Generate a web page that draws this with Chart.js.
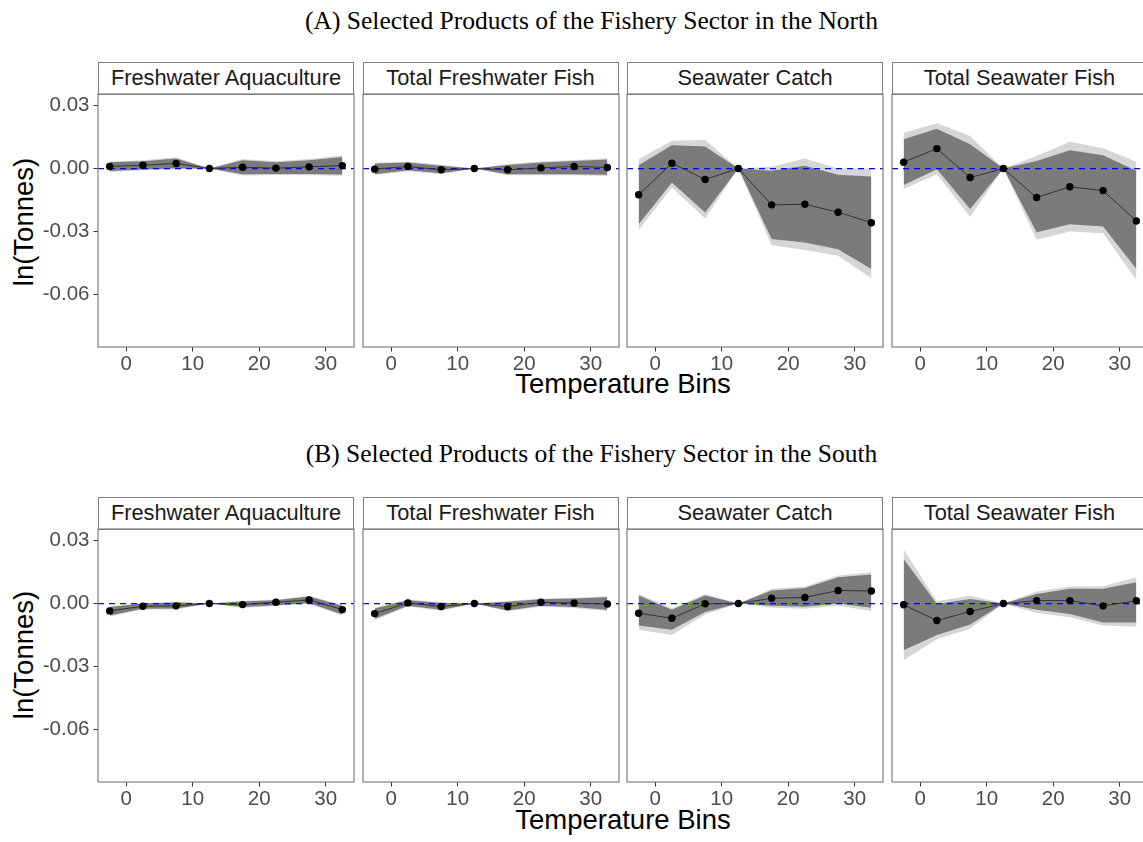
<!DOCTYPE html>
<html>
<head>
<meta charset="utf-8">
<script src="https://cdn.jsdelivr.net/npm/chart.js@4"></script>
<style>
  html, body { margin: 0; padding: 0; background: #fff; overflow: hidden; }
  body { width: 1143px; height: 842px; position: relative; font-family: "Liberation Sans", Arial, sans-serif; }
  .title { position: absolute; left: 0; width: 1183px; text-align: center; font-family: "Liberation Serif", "Times New Roman", serif; font-size: 25.5px; line-height: 30px; color: #000; }
  .strip { position: absolute; box-sizing: border-box; border: 1.2px solid #7f7f7f; background: #fff; text-align: center; font-size: 21.8px; color: #1a1a1a; line-height: 30px; }
  .xtitle { position: absolute; font-size: 27.5px; line-height: 32px; color: #000; text-align: center; width: 400px; }
  .ytitle { position: absolute; font-size: 27.5px; line-height: 32px; color: #000; transform: rotate(-90deg); transform-origin: center; width: 200px; text-align: center; }
  canvas { position: absolute; }
</style>
</head>
<body>
<script>
// temperature bins (bin midpoints) and panel names
const bins = [-2.5, 2.5, 7.5, 12.5, 17.5, 22.5, 27.5, 32.5];
const products = ['Freshwater Aquaculture', 'Total Freshwater Fish', 'Seawater Catch', 'Total Seawater Fish'];
const rowTitles = ['(A) Selected Products of the Fishery Sector in the North',
                   '(B) Selected Products of the Fishery Sector in the South'];
const xTicks = [0, 10, 20, 30];
const yTicks = [-0.06, -0.03, 0, 0.03];

// North: one array per product
const northEst = [
  [0.0010, 0.0016, 0.0024, 0, 0.0006, 0.0002, 0.0008, 0.0014],
  [-0.0003, 0.0010, -0.0006, 0, -0.0006, 0.0003, 0.0010, 0.0005],
  [-0.0125, 0.0025, -0.0052, 0, -0.0173, -0.0170, -0.0208, -0.0258],
  [0.0030, 0.0095, -0.0043, 0, -0.0138, -0.0087, -0.0105, -0.0250]
];
const northHi90 = [
  [0.0030, 0.0035, 0.0048, 0, 0.0040, 0.0030, 0.0040, 0.0055],
  [0.0024, 0.0029, 0.0013, 0, 0.0017, 0.0029, 0.0036, 0.0043],
  [0.0016, 0.0111, 0.0105, 0, -0.0011, 0.0013, -0.0030, -0.0038],
  [0.0139, 0.0190, 0.0116, 0, 0.0036, 0.0087, 0.0063, -0.0011]
];
const northLo90 = [
  [-0.0012, -0.0004, 0.0001, 0, -0.0027, -0.0026, -0.0026, -0.0028],
  [-0.0027, -0.0008, -0.0022, 0, -0.0027, -0.0027, -0.0027, -0.0030],
  [-0.0265, -0.0067, -0.0209, 0, -0.0336, -0.0352, -0.0384, -0.0479],
  [-0.0078, -0.0003, -0.0193, 0, -0.0304, -0.0265, -0.0276, -0.0479]
];
const northHi95 = [
  [0.0034, 0.0039, 0.0054, 0, 0.0046, 0.0035, 0.0046, 0.0062],
  [0.0028, 0.0034, 0.0018, 0, 0.0022, 0.0034, 0.0041, 0.0048],
  [0.0044, 0.0132, 0.0136, 0, 0.0008, 0.0048, 0.0000, 0.0000],
  [0.0171, 0.0216, 0.0155, 0, 0.0060, 0.0127, 0.0097, 0.0032]
];
const northLo95 = [
  [-0.0016, -0.0008, -0.0004, 0, -0.0033, -0.0031, -0.0032, -0.0034],
  [-0.0031, -0.0013, -0.0027, 0, -0.0032, -0.0032, -0.0032, -0.0035],
  [-0.0293, -0.0090, -0.0238, 0, -0.0365, -0.0388, -0.0415, -0.0522],
  [-0.0098, -0.0027, -0.0230, 0, -0.0339, -0.0300, -0.0308, -0.0531]
];

// South
const southEst = [
  [-0.0035, -0.0013, -0.0011, 0, -0.0005, 0.0006, 0.0017, -0.0029],
  [-0.0048, 0.0003, -0.0014, 0, -0.0014, 0.0006, 0.0002, -0.0002],
  [-0.0046, -0.0070, -0.0001, 0, 0.0025, 0.0029, 0.0062, 0.0060],
  [-0.0006, -0.0081, -0.0038, 0, 0.0014, 0.0014, -0.0011, 0.0013]
];
const southHi90 = [
  [-0.0017, 0.0000, 0.0005, 0, 0.0010, 0.0016, 0.0033, -0.0011],
  [-0.0024, 0.0016, 0.0002, 0, 0.0008, 0.0020, 0.0024, 0.0030],
  [0.0038, -0.0030, 0.0038, 0, 0.0062, 0.0074, 0.0125, 0.0138],
  [0.0212, -0.0002, 0.0022, 0, 0.0046, 0.0070, 0.0070, 0.0101]
];
const southLo90 = [
  [-0.0057, -0.0025, -0.0024, 0, -0.0017, -0.0008, 0.0003, -0.0052],
  [-0.0073, -0.0010, -0.0030, 0, -0.0033, -0.0011, -0.0017, -0.0030],
  [-0.0105, -0.0125, -0.0040, 0, -0.0010, -0.0015, 0.0000, -0.0020],
  [-0.0223, -0.0150, -0.0100, 0, -0.0030, -0.0050, -0.0090, -0.0090]
];
const southHi95 = [
  [-0.0013, 0.0003, 0.0008, 0, 0.0013, 0.0019, 0.0037, -0.0007],
  [-0.0020, 0.0020, 0.0006, 0, 0.0012, 0.0024, 0.0028, 0.0035],
  [0.0046, -0.0022, 0.0046, 0, 0.0070, 0.0081, 0.0133, 0.0149],
  [0.0257, 0.0011, 0.0038, 0, 0.0057, 0.0081, 0.0082, 0.0125]
];
const southLo95 = [
  [-0.0062, -0.0029, -0.0028, 0, -0.0021, -0.0012, -0.0001, -0.0057],
  [-0.0080, -0.0014, -0.0034, 0, -0.0037, -0.0015, -0.0021, -0.0035],
  [-0.0125, -0.0150, -0.0052, 0, -0.0020, -0.0025, -0.0010, -0.0035],
  [-0.0270, -0.0170, -0.0120, 0, -0.0045, -0.0065, -0.0105, -0.0110]
];

const rows = [
  { est: northEst, hi90: northHi90, lo90: northLo90, hi95: northHi95, lo95: northLo95 },
  { est: southEst, hi90: southHi90, lo90: southLo90, hi95: southHi95, lo95: southLo95 }
];

// layout (px)
const panelLeft = [98, 362.5, 627, 891.5];
const panelW = 256;
const plotTop = [93.5, 528.5];
const plotH = 253;
const stripH = 32;
const yAxisW = 62;
const xAxisH = 36;
const titleY = [6, 439];
const xTitleY = [368, 803.5];
const yTitleC = [222, 655];

const pts = arr => arr.map((v, i) => ({ x: bins[i], y: v }));

const panelBorder = {
  id: 'panelBorder',
  afterDraw(chart) {
    const a = chart.chartArea;
    const ctx = chart.ctx;
    ctx.save();
    ctx.strokeStyle = '#7f7f7f';
    ctx.lineWidth = 1.2;
    ctx.strokeRect(a.left, a.top, a.right - a.left, a.bottom - a.top);
    ctx.restore();
  }
};

function addDiv(cls, text, css) {
  const d = document.createElement('div');
  d.className = cls;
  d.textContent = text;
  Object.assign(d.style, css);
  document.body.appendChild(d);
  return d;
}

function makeChart(row, p, withY, cw, ch) {
  const canvas = document.createElement('canvas');
  canvas.width = cw;
  canvas.height = ch;
  canvas.style.width = cw + 'px';
  canvas.style.height = ch + 'px';
  document.body.appendChild(canvas);

  const chart = new Chart(canvas.getContext('2d'), {
    type: 'line',
    data: {
      datasets: [
        { data: pts(row.hi95[p]), fill: '+1', backgroundColor: '#d6d6d6', borderWidth: 0, pointRadius: 0, order: 4 },
        { data: pts(row.lo95[p]), fill: false, borderWidth: 0, pointRadius: 0, order: 4 },
        { data: pts(row.hi90[p]), fill: '+1', backgroundColor: '#7b7b7b', borderWidth: 0, pointRadius: 0, order: 3 },
        { data: pts(row.lo90[p]), fill: false, borderWidth: 0, pointRadius: 0, order: 3 },
        { data: [{ x: -4.25, y: 0 }, { x: 34.25, y: 0 }], fill: false, borderColor: '#0000ff',
          borderWidth: 1.3, borderDash: [6, 5], pointRadius: 0, order: 2 },
        { data: pts(row.est[p]), fill: false, borderColor: '#333333', borderWidth: 1,
          pointRadius: 3.7, pointBackgroundColor: '#000', pointBorderWidth: 0, order: 1 }
      ]
    },
    options: {
      responsive: false,
      maintainAspectRatio: false,
      animation: false,
      events: [],
      layout: { padding: 0 },
      plugins: { legend: { display: false }, tooltip: { enabled: false } },
      scales: {
        x: {
          type: 'linear', min: -4.25, max: 34.25,
          afterBuildTicks: s => { s.ticks = xTicks.map(v => ({ value: v })); },
          afterFit: s => { s.height = xAxisH; s.paddingLeft = 0; s.paddingRight = 0; },
          grid: { drawOnChartArea: false, drawTicks: true, tickLength: 4.5, color: '#333' },
          border: { display: false },
          ticks: { color: '#4d4d4d', font: { size: 20.5, family: 'Liberation Sans' }, padding: 1, maxRotation: 0 }
        },
        y: {
          type: 'linear', min: -0.085, max: 0.0355,
          display: withY,
          afterBuildTicks: s => { s.ticks = yTicks.map(v => ({ value: v })); },
          afterFit: s => { s.width = withY ? yAxisW : 0; s.paddingTop = 0; s.paddingBottom = 0; },
          grid: { drawOnChartArea: false, drawTicks: true, tickLength: 4.5, color: '#333' },
          border: { display: false },
          ticks: { color: '#4d4d4d', font: { size: 20.5, family: 'Liberation Sans' }, padding: 4,
                   callback: v => v.toFixed(2) }
        }
      }
    },
    plugins: [panelBorder]
  });
  return { canvas, chart };
}

rows.forEach((row, r) => {
  addDiv('title', rowTitles[r], { top: titleY[r] + 'px' });
  addDiv('xtitle', 'Temperature Bins', { left: (623 - 200) + 'px', top: xTitleY[r] + 'px' });
  addDiv('ytitle', 'ln(Tonnes)', { left: (24 - 100) + 'px', top: (yTitleC[r] - 16) + 'px' });

  products.forEach((name, p) => {
    addDiv('strip', name, {
      left: panelLeft[p] + 'px', top: (plotTop[r] - stripH) + 'px',
      width: panelW + 'px', height: (stripH + 1) + 'px'
    });

    const withY = p === 0;
    // first pass: measure the padding Chart.js adds around the plot area
    let cw = panelW + (withY ? yAxisW : 0);
    let ch = plotH + xAxisH;
    let made = makeChart(row, p, withY, cw, ch);
    let a = made.chart.chartArea;
    cw += panelW - (a.right - a.left);
    ch += plotH - (a.bottom - a.top);
    made.chart.destroy();
    made.canvas.remove();

    // second pass with the corrected canvas size
    made = makeChart(row, p, withY, Math.round(cw), Math.round(ch));
    a = made.chart.chartArea;
    made.canvas.style.left = (panelLeft[p] - a.left) + 'px';
    made.canvas.style.top = (plotTop[r] - a.top) + 'px';
  });
});
</script>
</body>
</html>
